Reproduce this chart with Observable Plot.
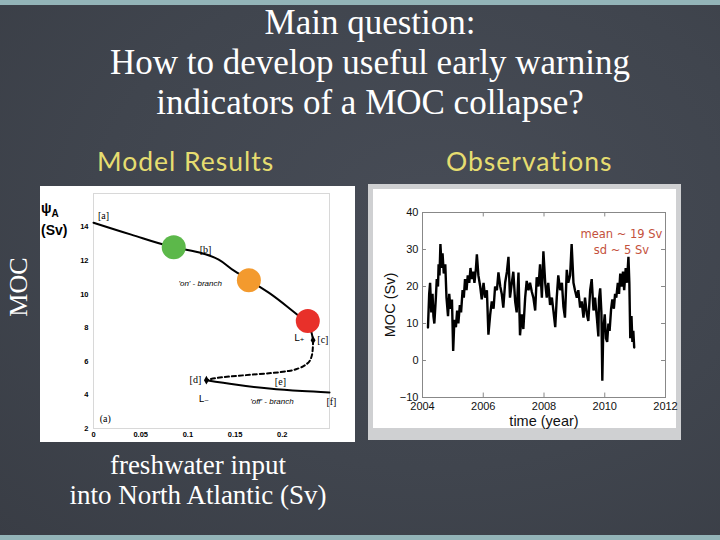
<!DOCTYPE html>
<html>
<head>
<meta charset="utf-8">
<script src="https://cdn.jsdelivr.net/npm/d3@7"></script>
<script src="https://cdn.jsdelivr.net/npm/@observablehq/plot@0.6"></script>
<style>
  html, body { margin:0; padding:0; }
  body { width:720px; height:540px; position:relative; overflow:hidden;
         background: radial-gradient(ellipse at 60% 40%, #474c56 0%, #40454e 55%, #393d45 100%); }
  .strip { position:absolute; left:0; width:720px; background:#93b4b8; }
  .title { position:absolute; left:0; width:740px; top:3px; text-align:center; color:#fff;
           font-family:"Liberation Serif", serif; font-size:35px; line-height:40px; }
  .head { position:absolute; top:145px; color:#e6dd70; font-family:Lato, sans-serif; font-size:26.5px; letter-spacing:1px; }
  .serif { position:absolute; color:#fff; font-family:"Liberation Serif", serif; }
  #model { position:absolute; left:40px; top:186px; width:315px; height:256px; background:#fff; }
  #obsframe { position:absolute; left:368px; top:184px; width:313px; height:256px; background:#cfd0d2; }
  #obs { position:absolute; left:373px; top:189px; width:303px; height:239px; background:#fff; }
  #obs svg { overflow: visible; }
  #obs g[aria-label="x-axis label"], #obs g[aria-label="y-axis label"] { font-size:14.5px; }
  .psi { position:absolute; left:41px; top:200px; font-family:"Liberation Sans", sans-serif; font-weight:bold; font-size:14px; color:#000; line-height:17px; }
</style>
</head>
<body>
<div class="strip" style="top:0;height:5px;"></div>
<div class="strip" style="top:535px;height:5px;"></div>
<div class="title">Main question:<br>How to develop useful early warning<br>indicators of a MOC collapse?</div>
<div class="head" style="left:97px;">Model Results</div>
<div class="head" style="left:446px;">Observations</div>
<div class="serif" style="left:-14px;top:272px;width:66px;text-align:center;font-size:26px;transform:rotate(-90deg);">MOC</div>
<div class="serif" style="left:40px;top:450px;width:316px;text-align:center;font-size:27px;line-height:30px;">freshwater input<br>into North Atlantic (Sv)</div>
<div id="model"></div>
<div class="psi">ψ<sub style="font-size:10px">A</sub><br>(Sv)</div>
<div id="obsframe"></div>
<div id="obs"></div>
<script>
// ---------- Model results (bifurcation diagram) ----------
const onBranchX  = [0, 0.04, 0.085, 0.115, 0.150, 0.165, 0.186, 0.211, 0.221, 0.227, 0.231, 0.2326];
const onBranchY  = [14.26, 13.55, 12.8, 12.44, 11.36, 10.83, 10.08, 9.0, 8.55, 8.3, 7.7, 7.26];
const unstableX  = [0.2326, 0.2322, 0.2305, 0.226, 0.218, 0.207, 0.188, 0.168, 0.136, 0.1196];
const unstableY  = [7.26, 6.7, 6.2, 5.85, 5.6, 5.43, 5.3, 5.21, 5.05, 4.88];
const offBranchX = [0.1196, 0.150, 0.186, 0.221, 0.25];
const offBranchY = [4.88, 4.62, 4.38, 4.23, 4.15];
const stateX     = [0.085, 0.1646, 0.227];
const stateY     = [12.8, 10.83, 8.40];
const stateColor = ["#5cb84a", "#f39a2e", "#e8302a"];
const foldX      = [0.2326, 0.1196];
const foldY      = [7.26, 4.88];
const bracketText = ["[a]", "[b]", "[c]", "[d]", "[e]", "[f]", "(a)"];
const bracketX    = [0.0106, 0.1186, 0.243, 0.108, 0.198, 0.252, 0.0124];
const bracketY    = [14.7, 12.64, 7.26, 4.9, 4.78, 3.6, 2.6];
const branchText  = ["'on' - branch", "'off' - branch"];
const branchX     = [0.113, 0.189];
const branchY     = [10.63, 3.62];
const foldText    = ["L₊", "L₋"];
const foldLabelX  = [0.218, 0.117];
const foldLabelY  = [7.42, 3.78];
const modelXTicks = [0, 0.05, 0.1, 0.15, 0.2];
const modelYTicks = [2, 4, 6, 8, 10, 12, 14];

const zipXY = (xs, ys) => xs.map((x, i) => ({x, y: ys[i]}));

const model = Plot.plot({
  width: 315, height: 256,
  marginLeft: 53, marginRight: 26, marginTop: 7, marginBottom: 14,
  style: {background: "#fff", color: "#000", fontFamily: "Liberation Sans, sans-serif", fontSize: "7.5px", fontWeight: "bold"},
  x: {domain: [0, 0.25], ticks: modelXTicks, tickFormat: d => String(d), label: null, tickSize: 0, tickPadding: 3},
  y: {domain: [2, 16], ticks: modelYTicks, label: null, tickSize: 0, tickPadding: 5},
  marks: [
    Plot.frame({stroke: "#d8d8d8"}),
    Plot.line(zipXY(onBranchX, onBranchY), {x: "x", y: "y", stroke: "#000", strokeWidth: 2, curve: "monotone-y"}),
    Plot.line(zipXY(unstableX, unstableY), {x: "x", y: "y", stroke: "#000", strokeWidth: 2, strokeDasharray: "4,3", curve: "monotone-y"}),
    Plot.line(zipXY(offBranchX, offBranchY), {x: "x", y: "y", stroke: "#000", strokeWidth: 2, curve: "monotone-x"}),
    Plot.dot(zipXY(foldX, foldY), {x: "x", y: "y", r: 2.6, fill: "#000", symbol: "diamond"}),
    Plot.dot(stateX.map((x, i) => ({x, y: stateY[i], c: stateColor[i]})), {x: "x", y: "y", r: 12, fill: "c"}),
    Plot.text(bracketText.map((t, i) => ({t, x: bracketX[i], y: bracketY[i]})), {x: "x", y: "y", text: "t", fontFamily: "Liberation Serif, serif", fontSize: 10, fontWeight: "normal", fill: "#000"}),
    Plot.text(branchText.map((t, i) => ({t, x: branchX[i], y: branchY[i]})), {x: "x", y: "y", text: "t", fontFamily: "Liberation Sans, sans-serif", fontSize: 8, fontWeight: "normal", fontStyle: "italic", fill: "#000"}),
    Plot.text(foldText.map((t, i) => ({t, x: foldLabelX[i], y: foldLabelY[i]})), {x: "x", y: "y", text: "t", fontFamily: "DejaVu Sans, sans-serif", fontSize: 9.5, fontWeight: "normal", fill: "#000"})
  ]
});
document.getElementById("model").appendChild(model);

// ---------- Observations (RAPID MOC time series) ----------
const obsYear = [
  2004.18, 2004.22, 2004.25, 2004.29, 2004.33, 2004.36, 2004.39, 2004.44, 2004.47, 2004.51,
  2004.53, 2004.56, 2004.59, 2004.63, 2004.66, 2004.70, 2004.75, 2004.79, 2004.84, 2004.88,
  2004.92, 2004.97, 2005.01, 2005.05, 2005.10, 2005.14, 2005.18, 2005.23, 2005.27, 2005.32,
  2005.36, 2005.40, 2005.45, 2005.49, 2005.54, 2005.58, 2005.62, 2005.67, 2005.71, 2005.76,
  2005.79, 2005.84, 2005.90, 2005.95, 2006.01, 2006.06, 2006.12, 2006.17, 2006.23, 2006.28,
  2006.34, 2006.39, 2006.45, 2006.50, 2006.56, 2006.61, 2006.66, 2006.72, 2006.78, 2006.83,
  2006.88, 2006.94, 2006.99, 2007.05, 2007.10, 2007.16, 2007.21, 2007.27, 2007.32, 2007.38,
  2007.43, 2007.49, 2007.54, 2007.60, 2007.65, 2007.71, 2007.76, 2007.82, 2007.87, 2007.93,
  2007.98, 2008.04, 2008.09, 2008.14, 2008.20, 2008.26, 2008.31, 2008.37, 2008.42, 2008.47,
  2008.53, 2008.59, 2008.64, 2008.69, 2008.75, 2008.80, 2008.86, 2008.91, 2008.97, 2009.02,
  2009.08, 2009.13, 2009.19, 2009.24, 2009.30, 2009.35, 2009.41, 2009.46, 2009.52, 2009.57,
  2009.63, 2009.68, 2009.74, 2009.79, 2009.81, 2009.85, 2009.89, 2009.92, 2009.95, 2010.00,
  2010.04, 2010.08, 2010.12, 2010.16, 2010.21, 2010.25, 2010.30, 2010.34, 2010.38, 2010.43,
  2010.47, 2010.51, 2010.56, 2010.60, 2010.64, 2010.69, 2010.73, 2010.78, 2010.81, 2010.84,
  2010.88, 2010.91, 2010.94, 2010.97
];
const obsMOC = [
  8.9, 18, 21, 13, 18, 12, 10, 17, 22, 20,
  26, 23, 31.5, 25, 29, 23.5, 26, 17, 12, 18,
  14, 16.5, 2.6, 11, 9, 13.5, 10, 15, 13, 19,
  17, 22, 19, 23, 21, 25, 22, 24, 21, 25,
  28.7, 23, 20, 16.5, 21, 17, 19, 7, 12.5, 16,
  14, 20, 19, 23.8, 20, 18, 14.3, 21, 24, 28,
  17, 21, 24, 16, 13, 23.8, 6.8, 12.5, 8.5, 17,
  21.5, 19, 21, 18.5, 17, 13.5, 22.5, 20, 26, 17,
  29.5, 21, 17, 21, 15, 17, 13.4, 9, 17, 23,
  19, 21, 14.5, 11.6, 24.5, 21, 23, 31.5, 21, 19,
  17, 19, 14.3, 16, 11.6, 17, 12.5, 10.7, 19, 22,
  13.5, 17, 11.6, 6.5, 16.5, 19.5, 13, -5.5, 8, 12.5,
  6, 5, 10, 8, 14, 16.5, 14, 18, 17, 21,
  18, 23.5, 20, 24, 19, 25, 21, 28, 21, 6,
  12, 5, 8, 3.5
];
const obsXTicks = [2004, 2006, 2008, 2010, 2012];
const obsYTicks = [-10, 0, 10, 20, 30, 40];
const obsNoteText = ["mean ~ 19 Sv\nsd ~ 5 Sv"];
const obsNoteYear = [2010.55];
const obsNoteMOC  = [32.3];

const obs = Plot.plot({
  width: 303, height: 239,
  marginLeft: 49, marginRight: 11, marginTop: 23, marginBottom: 31,
  style: {background: "#fff", color: "#111", fontFamily: "Liberation Sans, sans-serif", fontSize: "11px", overflow: "visible"},
  x: {domain: [2004, 2012], label: null},
  y: {domain: [-10, 40], label: null},
  marks: [
    Plot.frame({stroke: "#888"}),
    Plot.axisX({ticks: obsXTicks, tickFormat: d => String(d), tickSize: 0, tickPadding: 5,
                label: "time (year)", labelAnchor: "center", labelArrow: "none", labelOffset: 28}),
    Plot.axisY({ticks: obsYTicks, tickSize: 0, tickPadding: 4,
                label: "MOC (Sv)", labelAnchor: "center", labelArrow: "none", labelOffset: 38}),
    Plot.ruleX(obsXTicks.slice(1, -1), {x: d => d, y1: 40, y2: 38.8, stroke: "#888"}),
    Plot.ruleX(obsXTicks.slice(1, -1), {x: d => d, y1: -10, y2: -8.8, stroke: "#888"}),
    Plot.ruleY(obsYTicks.slice(1, -1), {y: d => d, x1: 2004, x2: 2004.13, stroke: "#888"}),
    Plot.ruleY(obsYTicks.slice(1, -1), {y: d => d, x1: 2012, x2: 2011.87, stroke: "#888"}),
    Plot.line(obsYear.map((t, i) => ({t, v: obsMOC[i]})), {x: "t", y: "v", stroke: "#000", strokeWidth: 2.4, strokeLinejoin: "miter"}),
    Plot.text(obsNoteText.map((t, i) => ({t, x: obsNoteYear[i], y: obsNoteMOC[i]})), {x: "x", y: "y", text: "t", fill: "#c4513c", fontSize: 11.5, fontFamily: "DejaVu Sans, sans-serif", lineHeight: 1.4})
  ]
});
document.getElementById("obs").appendChild(obs);
</script>
</body>
</html>
